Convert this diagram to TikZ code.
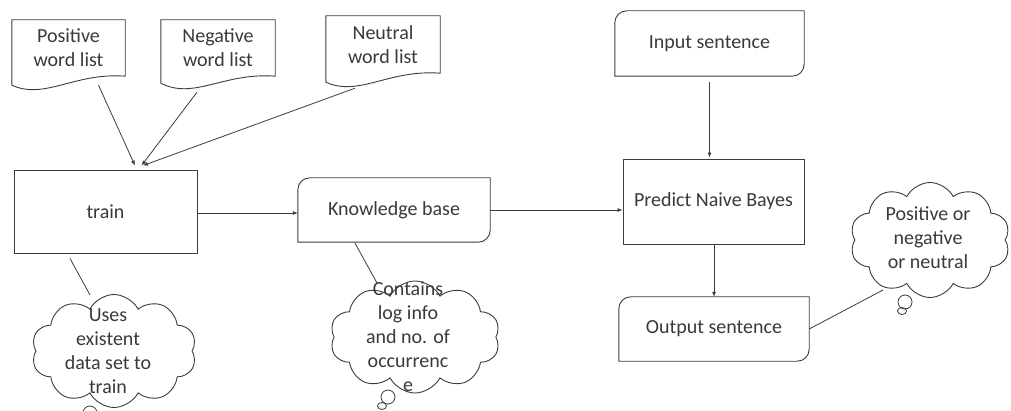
\documentclass[tikz,border=0pt]{standalone}
\usepackage{fontspec}
\setmainfont{Carlito}
\usetikzlibrary{shapes.symbols,calc,arrows.meta}
\definecolor{ln}{HTML}{3C3C3C}
\definecolor{tx}{HTML}{3A3A3A}
\begin{document}
\begin{tikzpicture}[x=1pt,y=1pt,
  every node/.style={font=\fontsize{20}{24}\selectfont,text=tx},
  shp/.style={draw=ln,line width=0.9pt},
  conn/.style={draw=ln,line width=0.8pt,-{Latex[length=5pt,width=4pt]}},
  plain/.style={draw=ln,line width=0.8pt},
  docbox/.style={inner sep=0pt,align=center},
  boxnode/.style={draw=ln,line width=0.9pt,inner sep=0pt,align=center},
  plainnode/.style={inner sep=0pt,align=center},
  cloudnode/.style={cloud,cloud puffs=10,cloud puff arc=125,draw=ln,line width=0.9pt,inner sep=0pt,cloud ignores aspect},
  bub/.style={draw=ln,line width=0.8pt}
]
\useasboundingbox (0,0) rectangle (1011,-411);
\fill[white] (0,0) rectangle (1011,-411);

% document shapes
\node[docbox,minimum width=113,minimum height=56] (pos) at (68.5,-48) {Positive\\word list};
\node[docbox,minimum width=114,minimum height=56] (neg) at (218,-48) {Negative\\word list};
\node[docbox,minimum width=114,minimum height=57] (neu) at (383,-44.5) {Neutral\\word list};
\foreach \n/\d in {pos/9,neg/7,neu/9}{
  \draw[shp] ($(\n.south west)+(0,-\d)$) -- (\n.north west) -- (\n.north east) -- (\n.south east)
    .. controls ($(\n.south west)+(63,4)$) and ($(\n.south west)+(33,-24)$) .. ($(\n.south west)+(0,-\d)$);
}

% boxes
\node[boxnode,minimum width=183,minimum height=83] (train) at (105.5,-211.5) {train};
\node[plainnode,minimum width=192,minimum height=64] (kb) at (394,-210) {Knowledge base};
\node[plainnode,minimum width=189,minimum height=65] (inp) at (709.5,-43.5) {Input sentence};
\node[boxnode,minimum width=181,minimum height=85] (pred) at (713.5,-201.5) {Predict Naive Bayes};
\node[plainnode,minimum width=190,minimum height=64] (out) at (714,-329) {Output sentence};
\foreach \n in {kb,inp,out}{
  \draw[shp] (\n.south west) -- ([yshift=-12]\n.north west) arc[start angle=180,end angle=90,radius=12pt]
    -- (\n.north east) -- ([yshift=12]\n.south east) arc[start angle=0,end angle=-90,radius=12pt] -- cycle;
}

% clouds
\node[cloudnode,minimum width=165,minimum height=113] (trainc) at (114,-351) {};
\node[plainnode] at (108,-351.5) {Uses\\existent\\data set to\\train};
\node[cloudnode,minimum width=170,minimum height=112] (kbc) at (415,-337) {};
\node[plainnode] at (408,-336.5) {Contains\\log info\\and no. of\\occurrenc\\e};
\node[cloudnode,minimum width=160,minimum height=115] (rc) at (930,-240) {};
\node[plainnode] at (928,-237.5) {Positive or\\negative\\or neutral};

% thought bubbles
\draw[bub] (90,-413) circle[radius=7pt];
\draw[bub] (388,-397) circle[radius=7pt];
\draw[bub] (382,-406) ellipse[x radius=4.5pt,y radius=3.5pt];
\draw[bub] (905,-302) circle[radius=7pt];
\draw[bub] (902,-311) ellipse[x radius=4.5pt,y radius=3.5pt];

% connectors
\draw[conn] ($(pos.south)+(30,-9)$) -- ($(train.north)+(29.5,4)$);
\draw[conn] ($(neg.south)+(-21,-16)$) -- ($(train.north)+(36,4)$);
\draw[conn] ($(neu.south)+(-28,-15)$) -- ($(train.north)+(37.5,4)$);
\draw[conn] ([yshift=-1.5]train.east) -- ([yshift=-1.5]train.east -| kb.west);
\draw[conn] (kb.east) -- (kb.east -| pred.west);
\draw[conn] ([yshift=-6]inp.south) -- ([yshift=1]inp.south |- pred.north);
\draw[conn] ([xshift=0.5]pred.south) -- ([xshift=0.5]pred.south |- out.north);
\draw[plain] ($(train.south)+(-35.5,-5)$) -- ($(trainc.center)+(-24,56)$);
\draw[plain] ($(kb.south)+(-39,-1)$) -- ($(kbc.center)+(-38,54)$);
\draw[plain] (out.east) -- ($(rc.center)+(-47,-50)$);
\end{tikzpicture}
\end{document}
